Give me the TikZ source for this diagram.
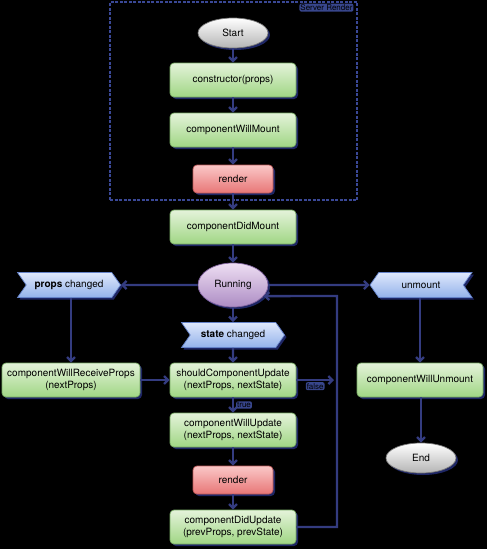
\documentclass[tikz,border=0pt]{standalone}
\usepackage{fontspec}
\setmainfont{TeX Gyre Heros}
\usetikzlibrary{shapes.geometric,shapes.symbols,arrows.meta,shadows}

\definecolor{linecol}{RGB}{52,60,128}
\definecolor{shadowcol}{RGB}{30,38,100}
\definecolor{framecol}{RGB}{58,72,150}
\definecolor{tagbg}{RGB}{56,70,140}
\definecolor{greentop}{RGB}{228,243,218}
\definecolor{greenbot}{RGB}{160,214,132}
\definecolor{greenline}{RGB}{120,170,100}
\definecolor{redtop}{RGB}{250,200,200}
\definecolor{redbot}{RGB}{232,118,118}
\definecolor{redline}{RGB}{190,90,90}
\definecolor{bluetop}{RGB}{222,232,252}
\definecolor{bluebot}{RGB}{148,178,234}
\definecolor{blueline}{RGB}{100,130,200}
\definecolor{runtop}{RGB}{238,222,242}
\definecolor{runbot}{RGB}{172,140,196}
\definecolor{runline}{RGB}{130,100,160}
\definecolor{greybot}{RGB}{180,180,180}
\definecolor{greyline}{RGB}{120,120,120}

\tikzset{
  base/.style={draw, line width=0.7pt, font=\fontsize{10}{12}\selectfont,
    general shadow={fill=shadowcol, shadow xshift=2pt, shadow yshift=-2pt}},
  phase/.style={base, rounded corners=4pt, minimum width=126pt, minimum height=34pt,
    align=center, draw=greenline, top color=greentop, bottom color=greenbot},
  rend/.style={base, rounded corners=4pt, minimum width=80pt, minimum height=28pt,
    draw=redline, top color=redtop, bottom color=redbot},
  term/.style={base, ellipse, minimum width=70pt, minimum height=30pt,
    draw=greyline, top color=white, bottom color=greybot},
  evt/.style={base, signal, signal pointer angle=110, minimum height=25pt,
    minimum width=103pt, draw=blueline, top color=bluetop, bottom color=bluebot},
  arr/.style={draw=linecol, line width=2.3pt, -{Straight Barb[length=4pt,width=8pt]}},
  tag/.style={font=\fontsize{8}{9}\selectfont, text=black, fill=tagbg,
    rounded corners=2pt, inner sep=1pt}
}

\begin{document}
\begin{tikzpicture}[x=1pt, y=-1pt]
  \fill[black] (0,0) rectangle (487,549);
  \useasboundingbox (0,0) rectangle (487,549);

  % server render frame
  \node[draw=framecol, dash pattern=on 3pt off 1.5pt, line width=1.3pt,
    minimum width=247pt, minimum height=198pt, inner sep=0pt] (srv) at (233.5,101) {};
  \node[tag, anchor=north east] (srvlbl)
    at ([xshift=-4pt,yshift=-2pt]srv.north east) {Server Render};

  % mounting
  \node[term] (start) at (233,33) {Start};
  \node[phase] (ctor) at (233,80) {constructor(props)};
  \node[phase] (willmount) at (233,130) {componentWillMount};
  \node[rend] (render1) at (233,179) {render};
  \node[phase] (didmount) at (233,227) {componentDidMount};
  \node[base, ellipse, minimum width=70pt, minimum height=44pt, draw=runline,
    top color=runtop, bottom color=runbot] (run) at (233,285) {Running};

  % events
  \node[evt, signal to=east, signal from=west] (props) at (69,285) {\textbf{props} changed};
  \node[evt, signal to=east, signal from=west] (state) at (233,335) {\textbf{state} changed};
  \node[evt, signal to=west, signal from=east, minimum width=102pt] (unmount) at (421,285) {unmount};

  % updating
  \node[phase, minimum width=138pt] (willrecv) at (71,380) {componentWillReceiveProps\\(nextProps)};
  \node[phase] (should) at (233,380) {shouldComponentUpdate\\(nextProps, nextState)};
  \node[phase] (willupd) at (233,430) {componentWillUpdate\\(nextProps, nextState)};
  \node[rend] (render2) at (233,480) {render};
  \node[phase] (didupd) at (233,527) {componentDidUpdate\\(prevProps, prevState)};

  % unmounting
  \node[phase] (willunmount) at (420,380) {componentWillUnmount};
  \node[term] (finish) at (421,458) {End};

  \coordinate (back) at (337,296);
  \coordinate (falseend) at (334,380);

  \draw[arr] (start) -- (ctor);
  \draw[arr] (ctor) -- (willmount);
  \draw[arr] (willmount) -- (render1);
  \draw[arr] (render1) -- (didmount);
  \draw[arr] (didmount) -- (run);

  \draw[arr] (run) -- (props);
  \draw[arr] (run) -- (unmount);
  \draw[arr] (run) -- (state);

  \draw[arr] (props.south -| willrecv) -- (willrecv);
  \draw[arr] (state) -- (should);
  \draw[arr] (willrecv) -- (should);
  \draw[arr] (should) -- node[tag, right, xshift=2pt] {true} (willupd);
  \draw[arr] (should) -- node[tag, below, yshift=-1pt] {false} (falseend);
  \draw[arr] (willupd) -- (render2);
  \draw[arr] (render2) -- (didupd);
  \draw[arr] (didupd.east) -| (back) -- (run.-20);

  \draw[arr] (unmount.south -| willunmount) -- (willunmount);
  \draw[arr] (willunmount.south -| finish) -- (finish);
\end{tikzpicture}
\end{document}
